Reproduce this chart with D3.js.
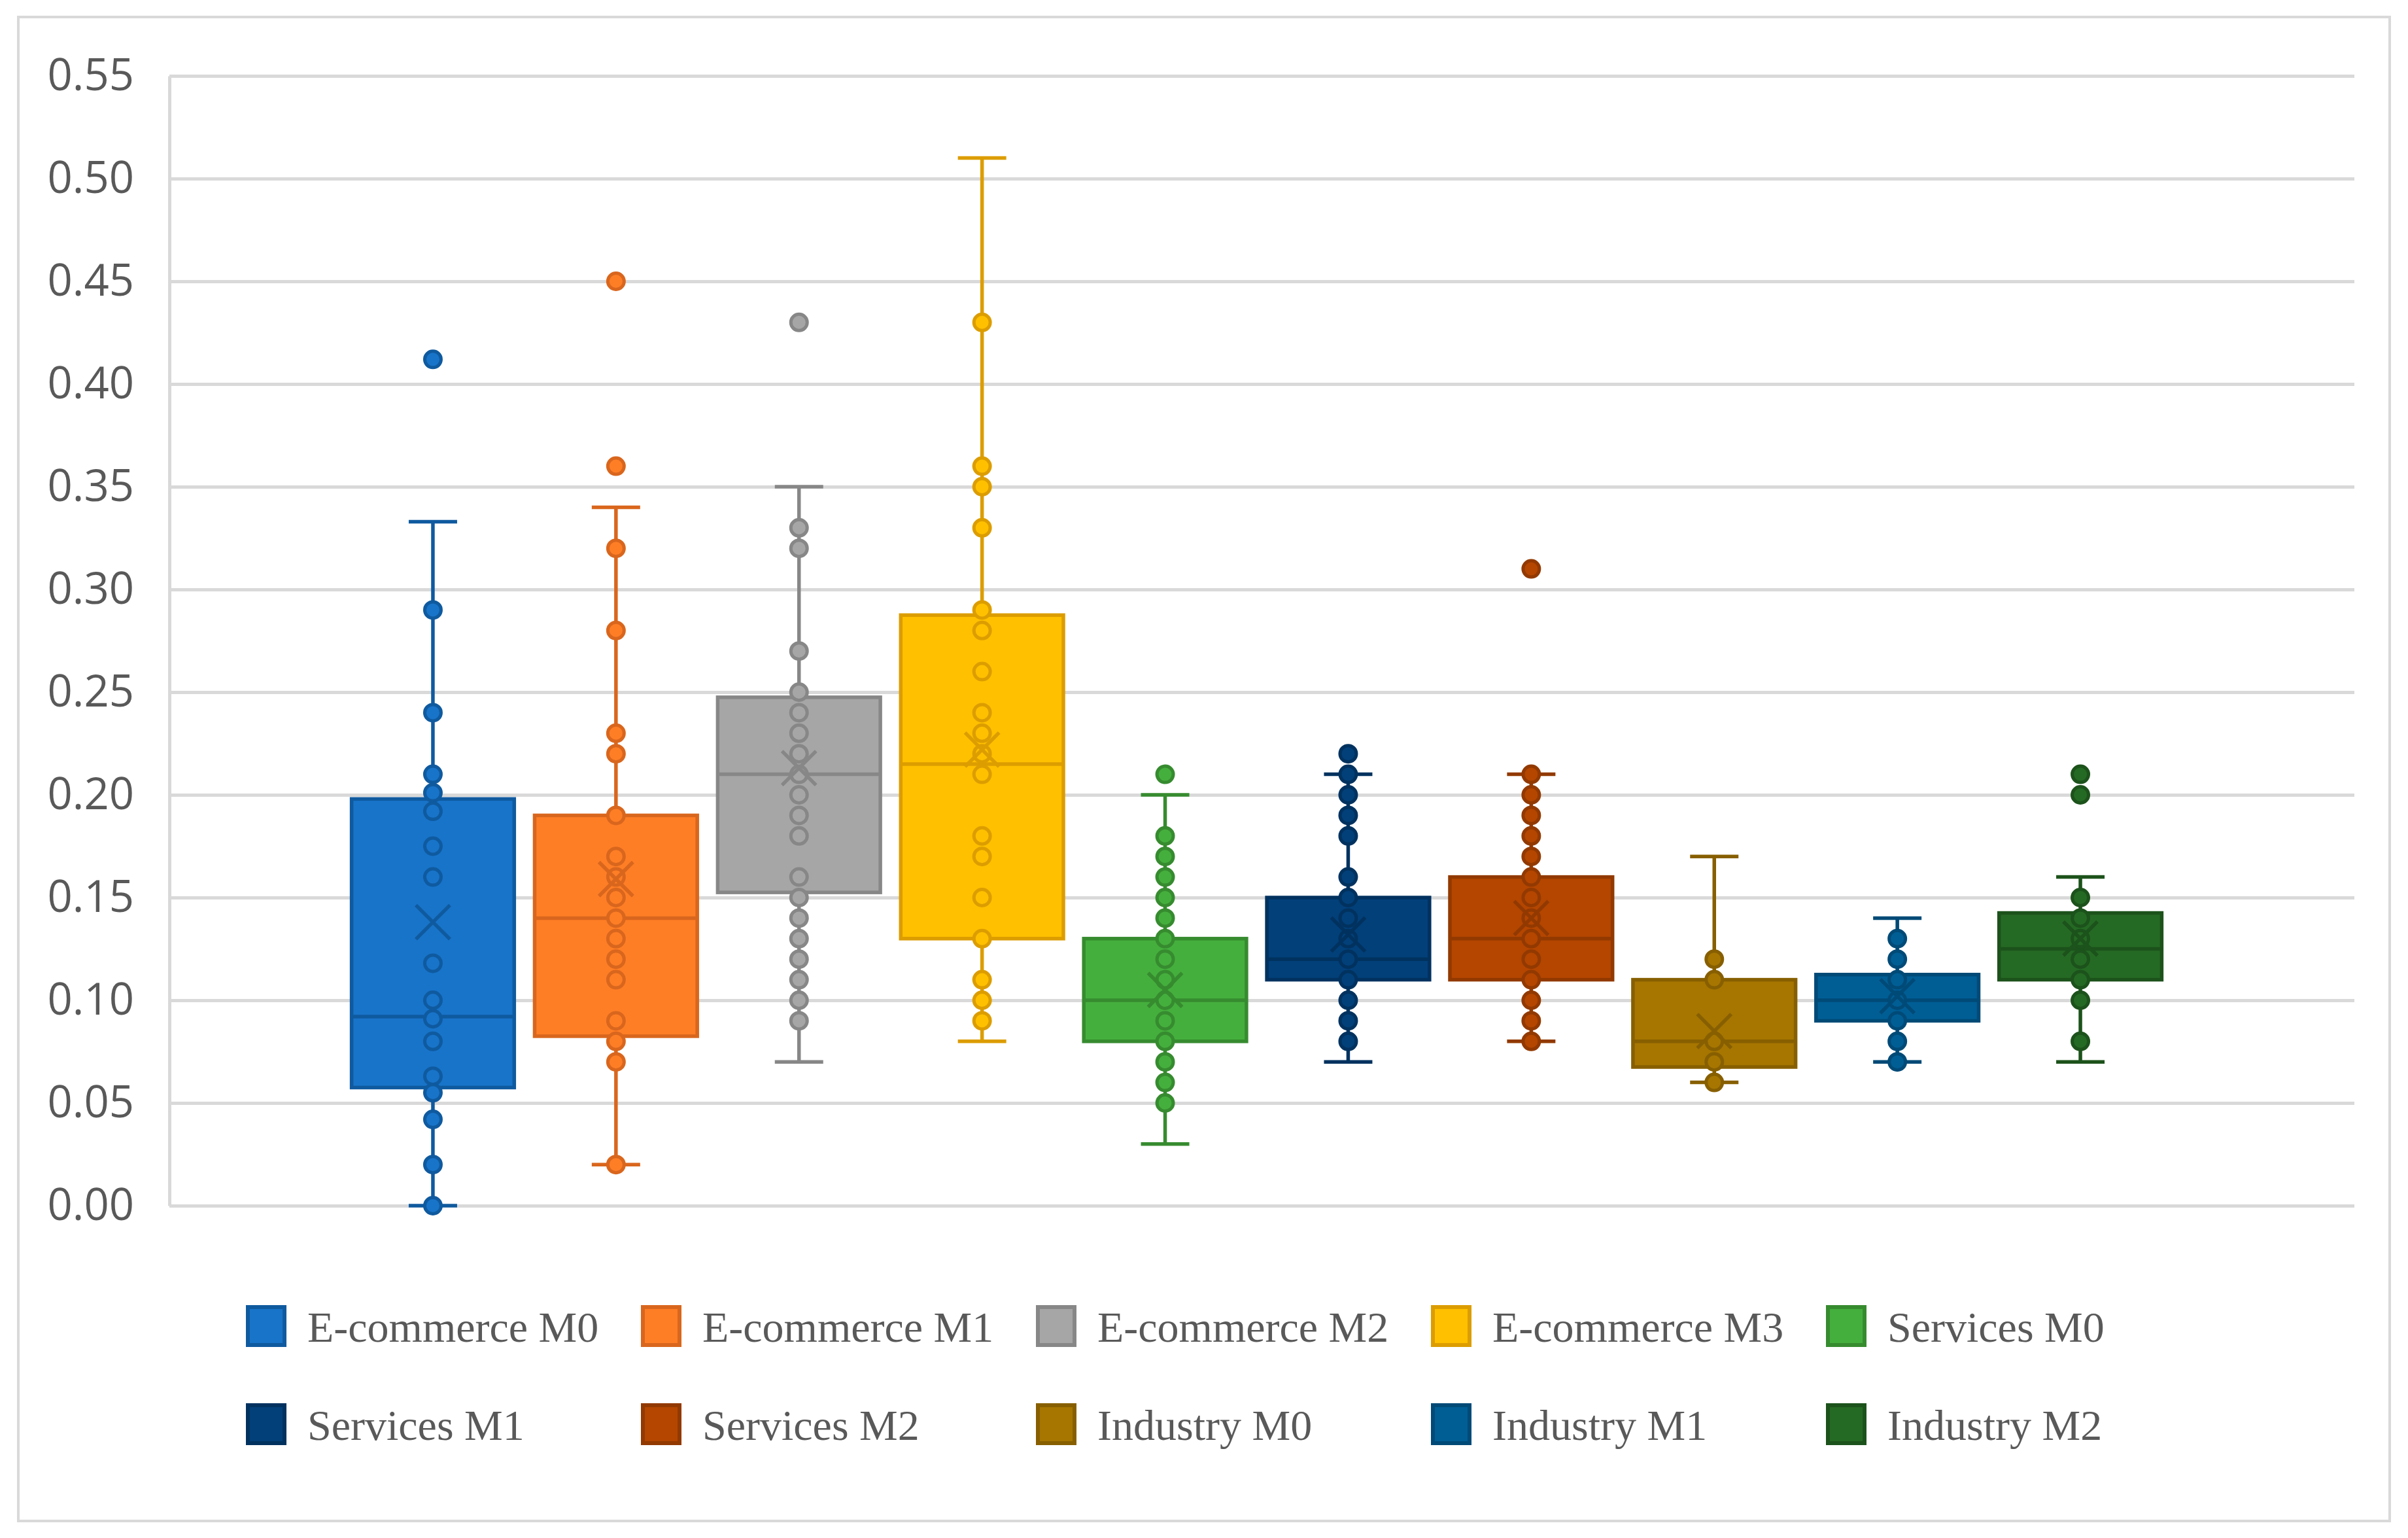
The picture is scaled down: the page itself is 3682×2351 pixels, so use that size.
<!DOCTYPE html>
<html>
<head>
<meta charset="utf-8">
<script src="https://cdn.jsdelivr.net/npm/d3@7"></script>
<style>
  body { margin: 0; background: #fff; }
</style>
</head>
<body>
<div id="chart"></div>
<script>
// chart values
const series = [
  'E-commerce M0', 'E-commerce M1', 'E-commerce M2', 'E-commerce M3', 'Services M0',
  'Services M1', 'Services M2', 'Industry M0', 'Industry M1', 'Industry M2',
];
const whiskerLow = [0, 0.02, 0.07, 0.08, 0.03, 0.07, 0.08, 0.06, 0.07, 0.07];
const q1 = [0.0575, 0.0825, 0.1525, 0.13, 0.08, 0.11, 0.11, 0.0675, 0.09, 0.11];
const median = [0.092, 0.14, 0.21, 0.215, 0.10, 0.12, 0.13, 0.08, 0.10, 0.125];
const q3 = [0.198, 0.19, 0.2475, 0.2875, 0.13, 0.15, 0.16, 0.11, 0.1125, 0.1425];
const whiskerHigh = [0.333, 0.34, 0.35, 0.51, 0.20, 0.21, 0.21, 0.17, 0.14, 0.16];
const means = [0.138, 0.159, 0.213, 0.222, 0.105, 0.132, 0.14, 0.085, 0.102, 0.13];
const points = [
  [0.412, 0.29, 0.24, 0.21, 0.201, 0.192, 0.175, 0.16, 0.118, 0.1, 0.091, 0.08, 0.063, 0.055, 0.042, 0.02, 0],
  [0.45, 0.36, 0.32, 0.28, 0.23, 0.22, 0.19, 0.17, 0.16, 0.15, 0.14, 0.13, 0.12, 0.11, 0.09, 0.08, 0.07, 0.02],
  [0.43, 0.33, 0.32, 0.27, 0.25, 0.24, 0.23, 0.22, 0.21, 0.2, 0.19, 0.18, 0.16, 0.15, 0.14, 0.13, 0.12, 0.11, 0.1, 0.09],
  [0.43, 0.36, 0.35, 0.33, 0.29, 0.28, 0.26, 0.24, 0.23, 0.22, 0.21, 0.18, 0.17, 0.15, 0.13, 0.11, 0.1, 0.09],
  [0.21, 0.18, 0.17, 0.16, 0.15, 0.14, 0.13, 0.12, 0.11, 0.1, 0.09, 0.08, 0.07, 0.06, 0.05],
  [0.22, 0.21, 0.2, 0.19, 0.18, 0.16, 0.15, 0.14, 0.13, 0.12, 0.11, 0.1, 0.09, 0.08],
  [0.31, 0.21, 0.2, 0.19, 0.18, 0.17, 0.16, 0.15, 0.14, 0.13, 0.12, 0.11, 0.1, 0.09, 0.08],
  [0.12, 0.11, 0.08, 0.07, 0.06],
  [0.13, 0.12, 0.11, 0.1, 0.09, 0.08, 0.07],
  [0.21, 0.2, 0.15, 0.14, 0.13, 0.12, 0.11, 0.1, 0.08],
];
const yTicks = [0, 0.05, 0.1, 0.15, 0.2, 0.25, 0.3, 0.35, 0.4, 0.45, 0.5, 0.55];

// colours
const fills = ['#1874c9', '#fe7e26', '#a6a6a6', '#ffc000', '#45af3d', '#02407a', '#b44600', '#a67600', '#005e95', '#256a24'];
const strokes = ['#0f5a9f', '#d9661d', '#878787', '#dc9d00', '#368b2f', '#01325f', '#923900', '#875f00', '#004a77', '#1c521b'];

const width = 3682;
const height = 2351;
const plot = { left: 259, right: 3600, top: 116, bottom: 1843 };

const svg = d3.select('#chart')
  .append('svg')
  .attr('width', width)
  .attr('height', height);

svg.append('rect')
  .attr('x', 28).attr('y', 26)
  .attr('width', 3626).attr('height', 2299)
  .attr('fill', '#fff')
  .attr('stroke', '#d9d9d9')
  .attr('stroke-width', 4);

const y = d3.scaleLinear().domain([0, 0.55]).range([plot.bottom, plot.top]);
const x = d3.scaleBand()
  .domain(series)
  .range([plot.left + 263, plot.right - 279])
  .paddingInner(0.09)
  .paddingOuter(0.045);

const yAxis = svg.append('g')
  .attr('transform', `translate(${plot.left},0)`)
  .call(d3.axisLeft(y)
    .tickValues(yTicks)
    .tickFormat(d3.format('.2f'))
    .tickSizeInner(-(plot.right - plot.left))
    .tickSizeOuter(0)
    .tickPadding(54));

yAxis.select('.domain').attr('stroke', '#d9d9d9').attr('stroke-width', 5);
yAxis.selectAll('.tick line').attr('stroke', '#d9d9d9').attr('stroke-width', 5);
yAxis.selectAll('.tick text')
  .attr('fill', '#595959')
  .attr('font-family', '"Open Sans", sans-serif')
  .attr('font-size', 67);

const bw = x.bandwidth();
const cap = 37;

const groups = svg.selectAll('g.box')
  .data(series)
  .enter()
  .append('g')
  .attr('class', 'box')
  .attr('transform', (d) => `translate(${x(d) + bw / 2},0)`);

// whiskers
groups.append('line')
  .attr('x1', 0).attr('x2', 0)
  .attr('y1', (d, i) => y(whiskerHigh[i]))
  .attr('y2', (d, i) => y(whiskerLow[i]))
  .attr('stroke', (d, i) => strokes[i])
  .attr('stroke-width', 5.5);

groups.each(function (d, i) {
  const g = d3.select(this);
  [whiskerHigh[i], whiskerLow[i]].forEach((v) => {
    g.append('line')
      .attr('x1', -cap).attr('x2', cap)
      .attr('y1', y(v)).attr('y2', y(v))
      .attr('stroke', strokes[i])
      .attr('stroke-width', 5.5);
  });
});

// boxes
groups.append('rect')
  .attr('x', -bw / 2 + 3)
  .attr('width', bw - 6)
  .attr('y', (d, i) => y(q3[i]))
  .attr('height', (d, i) => y(q1[i]) - y(q3[i]))
  .attr('fill', (d, i) => fills[i])
  .attr('stroke', (d, i) => strokes[i])
  .attr('stroke-width', 5.5);

groups.append('line')
  .attr('x1', -bw / 2 + 3).attr('x2', bw / 2 - 3)
  .attr('y1', (d, i) => y(median[i]))
  .attr('y2', (d, i) => y(median[i]))
  .attr('stroke', (d, i) => strokes[i])
  .attr('stroke-width', 5.5);

// data points
groups.each(function (d, i) {
  d3.select(this).selectAll('circle')
    .data(points[i])
    .enter()
    .append('circle')
    .attr('cx', 0)
    .attr('cy', (v) => y(v))
    .attr('r', 12.5)
    .attr('fill', fills[i])
    .attr('stroke', strokes[i])
    .attr('stroke-width', 5);
});

// mean markers
const m = 26;
groups.append('path')
  .attr('d', (d, i) => {
    const cy = y(means[i]);
    return `M${-m},${cy - m}L${m},${cy + m}M${-m},${cy + m}L${m},${cy - m}`;
  })
  .attr('fill', 'none')
  .attr('stroke', (d, i) => strokes[i])
  .attr('stroke-width', 5.5);

// legend
const legend = svg.append('g');
const items = legend.selectAll('g')
  .data(series)
  .enter()
  .append('g')
  .attr('transform', (d, i) => `translate(${376 + (i % 5) * 604},${1995 + Math.floor(i / 5) * 150})`);

items.append('rect')
  .attr('x', 3).attr('y', 3)
  .attr('width', 56).attr('height', 58)
  .attr('fill', (d, i) => fills[i])
  .attr('stroke', (d, i) => strokes[i])
  .attr('stroke-width', 6);

items.append('text')
  .attr('x', 94)
  .attr('y', 56)
  .attr('fill', '#595959')
  .attr('font-family', '"Liberation Serif", "Times New Roman", serif')
  .attr('font-size', 66)
  .text((d) => d);
</script>
</body>
</html>
